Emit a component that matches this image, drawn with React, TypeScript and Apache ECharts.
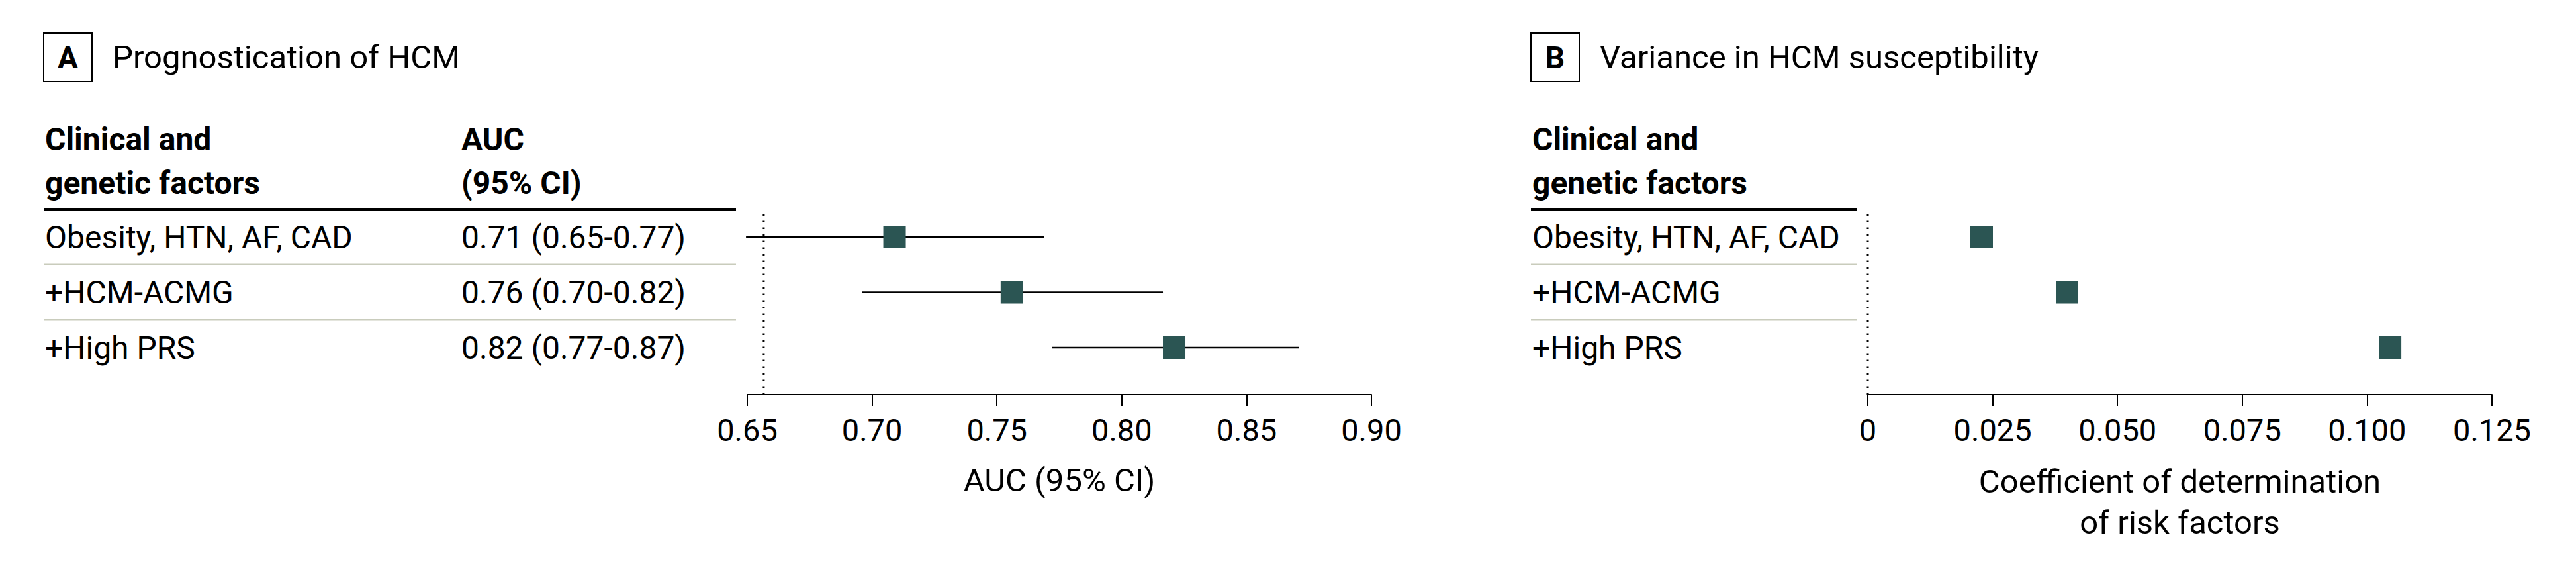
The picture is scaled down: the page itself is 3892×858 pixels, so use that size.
import React, { useEffect, useRef } from "react";
import * as echarts from "echarts";

// ---------- data ----------
const rowLabels = ["Obesity, HTN, AF, CAD", "+HCM-ACMG", "+High PRS"];
const aucLabels = ["0.71 (0.65-0.77)", "0.76 (0.70-0.82)", "0.82 (0.77-0.87)"];
const aucPoint = [0.709, 0.756, 0.821];
const aucLow = [0.6495, 0.696, 0.772];
const aucHigh = [0.769, 0.8165, 0.871];
const aucRef = 0.6566;
const aucMin = 0.65;
const aucMax = 0.9;
const aucStep = 0.05;
const r2Values = [0.0228, 0.0399, 0.1046];
const r2Ref = 0;
const r2Min = 0;
const r2Max = 0.125;
const r2Step = 0.025;
const panelLetters = ["A", "B"];
const panelTitles = ["Prognostication of HCM", "Variance in HCM susceptibility"];
const headerFactors = ["Clinical and", "genetic factors"];
const headerAuc = ["AUC", "(95% CI)"];
const axisTitleA = "AUC (95% CI)";
const axisTitleB = "Coefficient of determination\nof risk factors";

// ---------- layout ----------
const W = 3892;
const H = 858;
const FONT = "Roboto";
const INK = "#000000";
const TEAL = "#2b5553";
const SEP = "#c9ccbc";
const HEADER_LINE_Y = 316;
const ROW_TOP = 316.25;
const ROW_H = 83.5;
const AXIS_Y = 596;
const PLOT_W = 943;

const panels = [
  { tableLeft: 66, tableRight: 1112, textLeft: 68, plotLeft: 1129, boxX: 66, titleX: 170 },
  { tableLeft: 2313, tableRight: 2805, textLeft: 2315, plotLeft: 2822, boxX: 2313, titleX: 2417 },
];

function panelGraphics(i: number) {
  const p = panels[i];
  const els: any[] = [
    {
      type: "rect",
      shape: { x: p.boxX, y: 50, width: 73, height: 73 },
      style: { fill: "none", stroke: INK, lineWidth: 2 },
    },
    {
      type: "text",
      x: p.boxX + 36.5,
      y: 87,
      style: { text: panelLetters[i], fontSize: 46, fontWeight: "bold", fontFamily: FONT, fill: INK, align: "center", verticalAlign: "middle" },
    },
    {
      type: "text",
      x: p.titleX,
      y: 86.5,
      style: { text: panelTitles[i], fontSize: 49, fontFamily: FONT, fill: INK, align: "left", verticalAlign: "middle" },
    },
    {
      type: "line",
      shape: { x1: p.tableLeft, y1: HEADER_LINE_Y, x2: p.tableRight, y2: HEADER_LINE_Y },
      style: { stroke: INK, lineWidth: 4 },
    },
  ];
  headerFactors.forEach((t, k) => {
    els.push({
      type: "text",
      x: p.textLeft,
      y: 210.5 + k * 66,
      style: { text: t, fontSize: 48, fontWeight: "bold", fontFamily: FONT, fill: INK, align: "left", verticalAlign: "middle" },
    });
  });
  if (i === 0) {
    headerAuc.forEach((t, k) => {
      els.push({
        type: "text",
        x: 697,
        y: 210.5 + k * 66,
        style: { text: t, fontSize: 48, fontWeight: "bold", fontFamily: FONT, fill: INK, align: "left", verticalAlign: "middle" },
      });
    });
  }
  for (let k = 1; k < rowLabels.length; k++) {
    const y = ROW_TOP + k * ROW_H;
    els.push({
      type: "line",
      shape: { x1: p.tableLeft, y1: y, x2: p.tableRight, y2: y },
      style: { stroke: SEP, lineWidth: 2.5 },
    });
  }
  return els;
}

const rowLabelAxis = (gridIndex: number, labels: string[], margin: number) => ({
  type: "category",
  gridIndex,
  position: "left",
  inverse: true,
  data: labels,
  axisLine: { show: false },
  axisTick: { show: false },
  splitLine: { show: false },
  axisLabel: {
    interval: 0,
    align: "left",
    margin,
    fontSize: 48,
    fontFamily: FONT,
    color: INK,
  },
});

const hiddenValueY = (gridIndex: number) => ({
  type: "value",
  gridIndex,
  min: 0,
  max: 1,
  show: false,
});

const plotXAxis = (gridIndex: number, min: number, max: number, interval: number, fmt: (v: number) => string, name: string, nameGap: number) => ({
  type: "value",
  gridIndex,
  min,
  max,
  interval,
  position: "bottom",
  splitLine: { show: false },
  axisLine: { show: true, lineStyle: { color: INK, width: 2 } },
  axisTick: { show: true, length: 18, lineStyle: { color: INK, width: 2 } },
  axisLabel: { formatter: fmt, fontSize: 47, fontFamily: FONT, color: INK, margin: 53.5, verticalAlign: "middle" },
  name,
  nameLocation: "middle",
  nameGap,
  nameTextStyle: { fontSize: 49, fontFamily: FONT, color: INK, verticalAlign: "middle", lineHeight: 62 },
});

const hiddenXAxis = (gridIndex: number, min: number, max: number) => ({
  type: "value",
  gridIndex,
  min,
  max,
  show: false,
});

export default function App() {
  const ref = useRef<HTMLDivElement>(null);

  useEffect(() => {
    if (!ref.current) return;
    const chart = echarts.init(ref.current, undefined, { renderer: "svg" });

    const rowsGrid = (left: number) => ({ left, width: PLOT_W, top: ROW_TOP, height: ROW_H * rowLabels.length });
    const plotGrid = (left: number) => ({ left, width: PLOT_W, top: HEADER_LINE_Y, height: AXIS_Y - HEADER_LINE_Y });

    const ciData = aucPoint.map((_, i) => [aucLow[i], i, aucHigh[i]]);

    const option: any = {
      animation: false,
      backgroundColor: "#ffffff",
      textStyle: { fontFamily: FONT },
      grid: [rowsGrid(panels[0].plotLeft), plotGrid(panels[0].plotLeft), rowsGrid(panels[1].plotLeft), plotGrid(panels[1].plotLeft)],
      xAxis: [
        hiddenXAxis(0, aucMin, aucMax),
        plotXAxis(1, aucMin, aucMax, aucStep, (v: number) => v.toFixed(2), axisTitleA, 129.5),
        hiddenXAxis(2, r2Min, r2Max),
        plotXAxis(3, r2Min, r2Max, r2Step, (v: number) => (v === 0 ? "0" : v.toFixed(3)), axisTitleB, 162),
      ],
      yAxis: [
        rowLabelAxis(0, rowLabels, panels[0].plotLeft - panels[0].textLeft),
        rowLabelAxis(0, aucLabels, panels[0].plotLeft - 697),
        hiddenValueY(1),
        rowLabelAxis(2, rowLabels, panels[1].plotLeft - panels[1].textLeft),
        hiddenValueY(3),
      ],
      graphic: { elements: [...panelGraphics(0), ...panelGraphics(1)] },
      series: [
        {
          type: "line",
          xAxisIndex: 1,
          yAxisIndex: 2,
          data: [[aucRef, 0], [aucRef, 1]],
          symbol: "none",
          silent: true,
          lineStyle: { color: INK, width: 3, type: [2.5, 7.5] },
        },
        {
          type: "custom",
          xAxisIndex: 0,
          yAxisIndex: 0,
          data: ciData,
          encode: { x: [0, 2], y: 1 },
          renderItem: (params: any, api: any) => {
            const a = api.coord([api.value(0), api.value(1)]);
            const b = api.coord([api.value(2), api.value(1)]);
            return {
              type: "line",
              shape: { x1: a[0], y1: a[1], x2: b[0], y2: b[1] },
              style: { stroke: INK, lineWidth: 2.5 },
            };
          },
        },
        {
          type: "scatter",
          xAxisIndex: 0,
          yAxisIndex: 0,
          symbol: "rect",
          symbolSize: 34,
          itemStyle: { color: TEAL, opacity: 1 },
          data: aucPoint.map((v, i) => [v, i]),
        },
        {
          type: "line",
          xAxisIndex: 3,
          yAxisIndex: 4,
          data: [[r2Ref, 0], [r2Ref, 1]],
          symbol: "none",
          silent: true,
          lineStyle: { color: INK, width: 3, type: [2.5, 7.5] },
        },
        {
          type: "scatter",
          xAxisIndex: 2,
          yAxisIndex: 3,
          symbol: "rect",
          symbolSize: 34,
          itemStyle: { color: TEAL, opacity: 1 },
          data: r2Values.map((v, i) => [v, i]),
        },
      ],
    };

    chart.setOption(option);
    return () => chart.dispose();
  }, []);

  return (
    <div
      ref={ref}
      style={{ position: "absolute", left: 0, top: 0, width: W, height: H, background: "#ffffff" }}
    />
  );
}
